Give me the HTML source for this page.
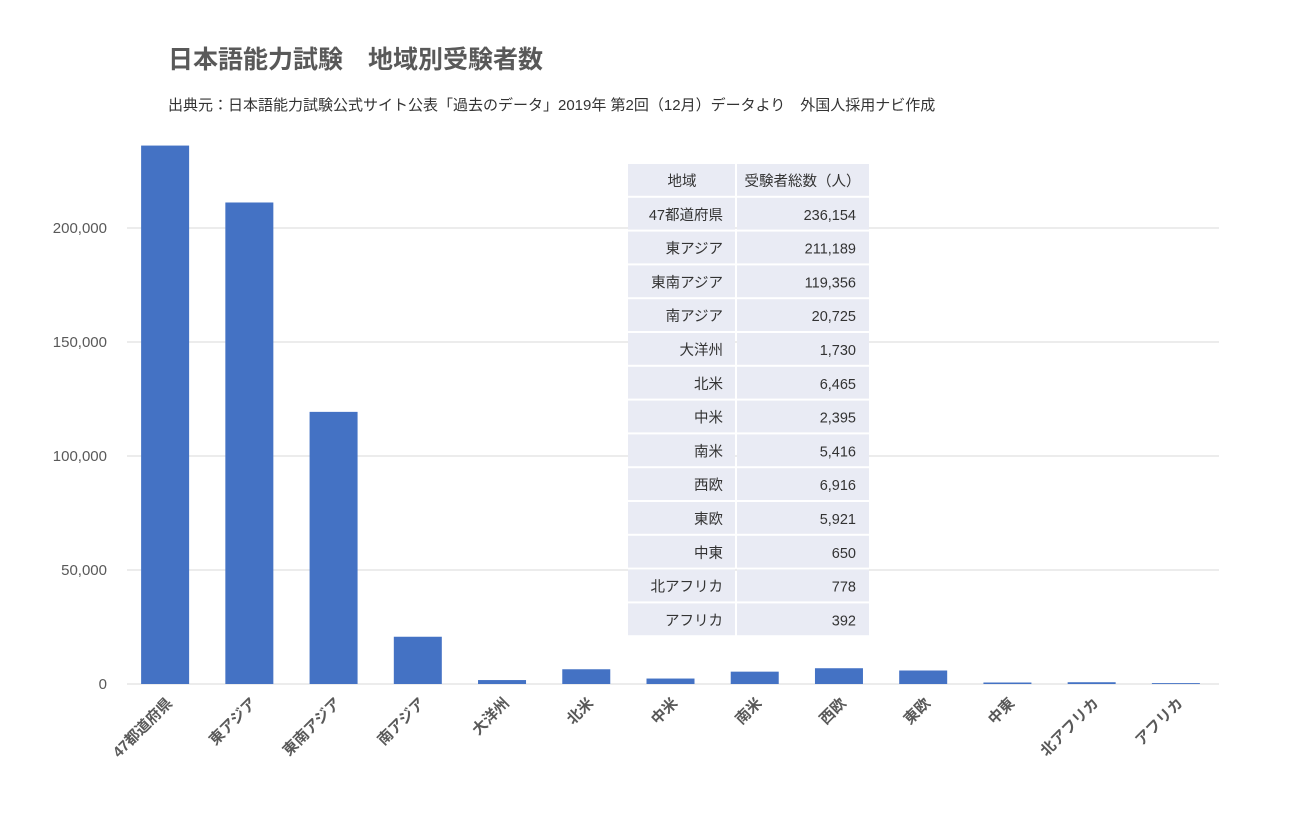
<!DOCTYPE html>
<html><head><meta charset="utf-8"><style>
body{margin:0;background:#fff;width:1301px;height:817px;overflow:hidden;font-family:"Liberation Sans","Noto Sans CJK JP",sans-serif}
</style></head><body>
<svg id="c" width="1301" height="817" xmlns="http://www.w3.org/2000/svg" style="font-family:'Liberation Sans','Noto Sans CJK JP',sans-serif">
<text x="168" y="68" font-size="25" font-weight="bold" fill="#595959">日本語能力試験　地域別受験者数</text>
<text x="168" y="110" font-size="15" fill="#333">出典元：日本語能力試験公式サイト公表「過去のデータ」2019年 第2回（12月）データより　外国人採用ナビ作成</text>
<g id="grid"></g><g id="bars"></g><g id="xl"></g><g id="tbl"></g>
</svg>
<script>
const categories=["47都道府県","東アジア","東南アジア","南アジア","大洋州","北米","中米","南米","西欧","東欧","中東","北アフリカ","アフリカ"];
const values=[236154,211189,119356,20725,1730,6465,2395,5416,6916,5921,650,778,392];
const yTicks=[0,50000,100000,150000,200000];
const tableHeader=["地域","受験者総数（人）"];
const NS="http://www.w3.org/2000/svg";
const x0=123,x1=1218,y0=684,pxPer=114/50000;
const band=(x1-x0)/categories.length;
const Y=v=>y0-v*pxPer;
const X=i=>x0+band*(i+0.5);
function mk(t,a,p){const e=document.createElementNS(NS,t);for(const k in a)e.setAttribute(k,a[k]);p.appendChild(e);return e;}
const g=document.getElementById('grid');
yTicks.forEach(v=>{
 const l=mk('line',{x1:127,x2:1219,y1:Y(v),y2:Y(v),stroke:'#d9d9d9','stroke-width':1},g);
 
 
 const t=mk('text',{x:107,y:Y(v)+5,'text-anchor':'end','font-size':15,fill:'#595959'},g);
 t.textContent=v.toLocaleString('en-US');
 
 
});
const b=document.getElementById('bars'),xl=document.getElementById('xl');
values.forEach((v,i)=>{
 const r=mk('rect',{x:X(i)-24,y:Y(v),width:48,height:y0-Y(v),fill:'#4472c4'},b);
 
 
 const t=mk('text',{transform:`translate(${X(i)+8},${y0+20}) rotate(-45)`,'text-anchor':'end','font-size':15,'font-weight':'bold',fill:'#595959'},xl);
 t.textContent=categories[i];
 
 
});
const tb=document.getElementById('tbl');
const tx=628,tc=736,tr=869,ty=164,rh=33.8;
const rows=[tableHeader].concat(categories.map((c,i)=>[c,values[i].toLocaleString('en-US')]));
rows.forEach((row,j)=>{
 const y=ty+j*rh;
 const c1=mk('rect',{x:tx,y:y,width:tc-tx-1,height:rh-2,fill:'#e9ebf4'},tb);
 
 
 const c2=mk('rect',{x:tc+1,y:y,width:tr-tc-1,height:rh-2,fill:'#e9ebf4'},tb);
 
 
 const a=mk('text',{x:j==0?(tx+tc)/2:tc-13,y:y+22,'text-anchor':j==0?'middle':'end','font-size':14.5,fill:'#333'},tb);
 a.textContent=row[0];
 
 
 const bb=mk('text',{x:j==0?(tc+tr)/2:tr-13,y:y+22,'text-anchor':j==0?'middle':'end','font-size':14.5,fill:'#333'},tb);
 bb.textContent=row[1];
 
 
});
</script>
</body></html>
